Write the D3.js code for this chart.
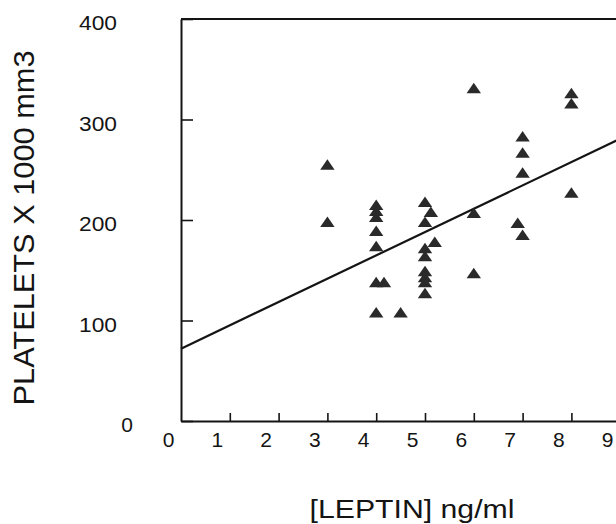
<!DOCTYPE html>
<html>
<head>
<meta charset="utf-8">
<script src="https://cdn.jsdelivr.net/npm/d3@7"></script>
<style>
  html, body { margin: 0; padding: 0; background: #fff; }
  svg { display: block; font-family: "Liberation Sans", Arial, sans-serif; }
</style>
</head>
<body>
<svg id="chart" width="616" height="524"></svg>
<script>
// leptin (ng/ml) and platelets (x1000 / mm3)
const leptin = [
  3.0, 3.0,
  4.0, 4.0, 4.0, 4.0, 4.0, 4.0, 4.16, 4.0, 4.5,
  5.0, 5.12, 5.0, 5.2, 5.0, 5.0, 5.0, 5.0, 5.0, 5.0,
  6.0, 6.0, 6.0,
  7.0, 7.0, 7.0, 6.9, 7.0,
  8.0, 8.0, 8.0,
];
const platelets = [
  255, 198,
  215, 209, 203, 189, 174, 138, 138, 108, 108,
  218, 208, 198, 178, 172, 164, 149, 143, 138, 127,
  331, 207, 147,
  283, 267, 247, 197, 185,
  326, 316, 227,
];
const xTicks = [0, 1, 2, 3, 4, 5, 6, 7, 8, 9];
const yTicks = [0, 100, 200, 300, 400];
// fitted line: platelets = intercept + slope * leptin
const fitIntercept = 72;
const fitSlope = 23.2;

const svg = d3.select("#chart");
const ink = "#141414";

const x = d3.scaleLinear().domain([0, 9]).range([181, 620.2]);
const y = d3.scaleLinear().domain([0, 400]).range([421, 19]);

//Top edge of the frame (box runs off the right side of the page)
svg.append("line")
  .attr("x1", x(0)).attr("x2", 616)
  .attr("y1", y(400)).attr("y2", y(400))
  .attr("stroke", ink).attr("stroke-width", 2);

//Y axis, ticks point inward
const yAxis = d3.axisLeft(y).tickValues(yTicks).tickSizeInner(-12).tickSizeOuter(0).tickPadding(64);
const gy = svg.append("g").attr("transform", `translate(${x(0)},0)`).call(yAxis);
gy.select(".domain").attr("stroke", ink).attr("stroke-width", 2);
gy.selectAll(".tick line").attr("stroke", ink).attr("stroke-width", 1.6);
gy.selectAll(".tick text")
  .attr("fill", ink).attr("font-size", 21).attr("font-family", null)
  .attr("dy", "0.52em")
  .attr("textLength", 38).attr("lengthAdjust", "spacingAndGlyphs");
gy.selectAll(".tick").filter((d) => d === 0).select("text")
  .attr("x", -48).attr("textLength", null).attr("lengthAdjust", null);

//X axis, ticks point up, labels sit a bit left of their ticks
const xAxis = d3.axisBottom(x).tickValues(xTicks).tickSizeInner(-8).tickSizeOuter(0);
const gx = svg.append("g").attr("transform", `translate(0,${y(0)})`).call(xAxis);
gx.select(".domain").attr("stroke", ink).attr("stroke-width", 2);
gx.selectAll(".tick line").attr("stroke", ink).attr("stroke-width", 1.6);
gx.selectAll(".tick").filter((d) => d === 0 || d === 9).select("line").remove();
gx.selectAll(".tick text")
  .attr("fill", ink).attr("font-size", 21).attr("font-family", null)
  .attr("x", -13).attr("y", 26).attr("dy", null);

//Regression line
svg.append("line")
  .attr("x1", x(0)).attr("y1", y(fitIntercept))
  .attr("x2", x(9)).attr("y2", y(fitIntercept + fitSlope * 9))
  .attr("stroke", ink).attr("stroke-width", 2.2);

//Points
const tri = "M0,-5.5L7.2,5L-7.2,5Z";
svg.append("g")
  .selectAll("path")
  .data(leptin.map((v, i) => ({ leptin: v, platelets: platelets[i] })))
  .join("path")
  .attr("d", tri)
  .attr("transform", (d) => `translate(${x(d.leptin)},${y(d.platelets)})`)
  .attr("fill", "#2a2a2a");

//Axis titles
svg.append("text")
  .attr("transform", "translate(34,228) rotate(-90)")
  .attr("text-anchor", "middle")
  .attr("font-size", 30)
  .attr("fill", ink)
  .attr("textLength", 355).attr("lengthAdjust", "spacingAndGlyphs")
  .text("PLATELETS X 1000 mm3");

svg.append("text")
  .attr("x", 412).attr("y", 518)
  .attr("text-anchor", "middle")
  .attr("font-size", 26)
  .attr("fill", ink)
  .attr("textLength", 205).attr("lengthAdjust", "spacingAndGlyphs")
  .text("[LEPTIN] ng/ml");
</script>
</body>
</html>
